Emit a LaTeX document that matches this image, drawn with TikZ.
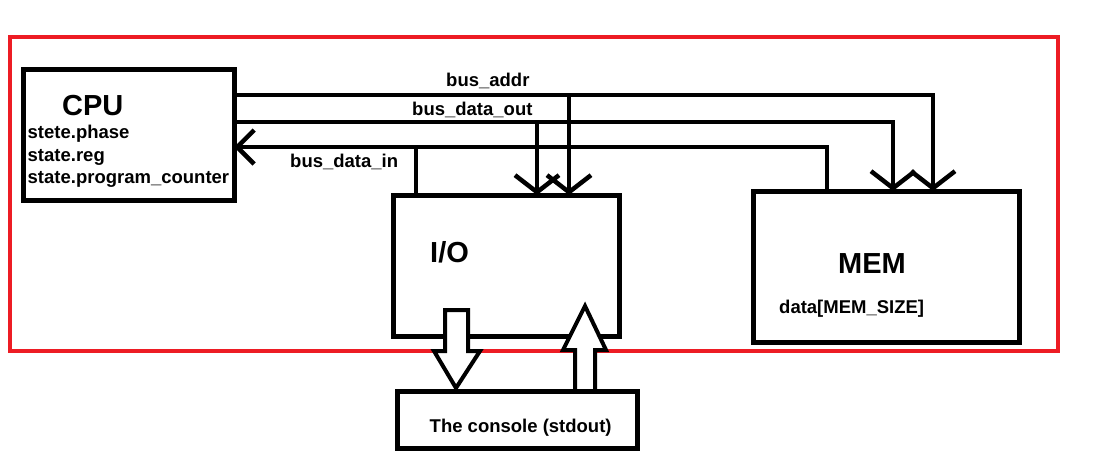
\documentclass[tikz,border=0pt]{standalone}
\usepackage{fontspec}
\setmainfont{Liberation Sans}
\usetikzlibrary{arrows.meta}
\definecolor{paintred}{RGB}{237,28,36}

\tikzset{
  box/.style={draw, line width=5pt, inner sep=0pt, outer sep=0pt},
  big/.style={font=\fontsize{29}{32}\selectfont\bfseries, inner sep=0pt, anchor=base west},
  small/.style={font=\fontsize{18.5}{20}\selectfont\bfseries, inner sep=0pt, anchor=base west},
  bus/.style={line width=4.5pt},
  bustip/.style={-{Straight Barb[length=17pt,width=#1]}},
  bustip/.default=44pt,
  fatarrow/.style={draw, fill=white, line width=4pt}
}

\begin{document}
\begin{tikzpicture}[x=1pt,y=-1pt]
    \useasboundingbox (0,0) rectangle (1106,451);
    \draw[paintred, line width=4.5pt] (10,37) rectangle (1058,351);

    \node[box, minimum width=211pt, minimum height=131pt] (cpu) at (128.5,134.5) {};
    \node[box, minimum width=226pt, minimum height=141pt] (io) at (506,265.5) {};
    \node[box, minimum width=266pt, minimum height=151pt] (mem) at (886,266.5) {};

    \node[big] (cpuname) at (62,115) {CPU};
    \node[small] (phase) at (27.5,138) {stete.phase};
    \node[small] (reg) at (27.5,161) {state.reg};
    \node[small] (pc) at (27.5,183) {state.program\_counter};
    \node[big] (ioname) at (430,262) {I/O};
    \node[big] (memname) at (838,273) {MEM};
    \node[small] (memdata) at (779,313) {data[MEM\_SIZE]};

    % buses
    \coordinate (addr) at (0,95);
    \coordinate (dout) at (0,122);
    \coordinate (din) at (0,147);
    \node[small] (addrlabel) at (446,86) {bus\_addr};
    \node[small] (doutlabel) at (412,115) {bus\_data\_out};
    \node[small] (dinlabel) at (290,167) {bus\_data\_in};

    \draw[bus, bustip] (cpu.east |- addr) -| ([xshift=47pt]mem.north);
    \draw[bus, bustip] ([xshift=63pt]io.north |- addr) -- ([xshift=63pt]io.north);
    \draw[bus, bustip] (cpu.east |- dout) -| ([xshift=7pt]mem.north);
    \draw[bus, bustip] ([xshift=31pt]io.north |- dout) -- ([xshift=31pt]io.north);
    \draw[bus, bustip=34pt] ([xshift=-59pt]mem.north) |- (cpu.east |- din);
    \draw[bus] ([xshift=-90pt]io.north) -- ([xshift=-90pt]io.north |- din);

    % stdout / stdin
    \draw[fatarrow] (445,310) -- (468,310) -- (468,351) -- (480,351) -- (456,388)
        -- (434,351) -- (445,351) -- cycle;
    \draw[fatarrow] (575,391) -- (575,350) -- (563,350) -- (585,306) -- (606,350)
        -- (595,350) -- (595,391) -- cycle;

    \node[box, minimum width=240pt, minimum height=57pt] (console) at (517,419.5) {};
    \node[small] (consolename) at (429.5,432) {The console (stdout)};
\end{tikzpicture}
\end{document}
